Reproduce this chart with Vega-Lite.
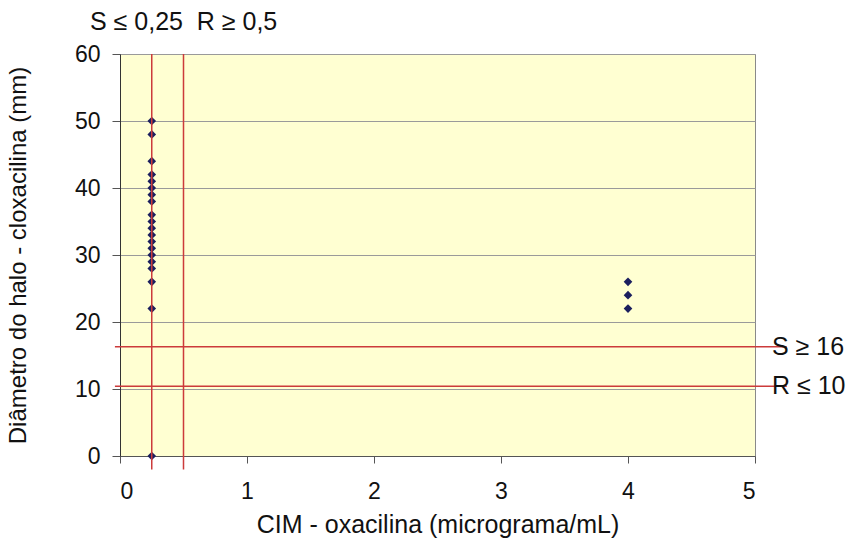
{
  "$schema": "https://vega.github.io/schema/vega-lite/v6.json",
  "autosize": "none",
  "width": 635,
  "height": 402,
  "padding": {"left": 120, "top": 54, "right": 97, "bottom": 84},
  "background": "white",
  "config": {
    "view": {"fill": "#FFFFD2", "stroke": "#8a8a8a", "strokeWidth": 1},
    "font": "Liberation Sans"
  },
  "datasets": {
    "pts": [
      {"cim": 0.25, "halo": 50}, {"cim": 0.25, "halo": 48}, {"cim": 0.25, "halo": 44},
      {"cim": 0.25, "halo": 42}, {"cim": 0.25, "halo": 41}, {"cim": 0.25, "halo": 40},
      {"cim": 0.25, "halo": 39}, {"cim": 0.25, "halo": 38}, {"cim": 0.25, "halo": 36},
      {"cim": 0.25, "halo": 35}, {"cim": 0.25, "halo": 34}, {"cim": 0.25, "halo": 33},
      {"cim": 0.25, "halo": 32}, {"cim": 0.25, "halo": 31}, {"cim": 0.25, "halo": 30},
      {"cim": 0.25, "halo": 29}, {"cim": 0.25, "halo": 28}, {"cim": 0.25, "halo": 26},
      {"cim": 0.25, "halo": 22}, {"cim": 0.25, "halo": 0},
      {"cim": 4, "halo": 26}, {"cim": 4, "halo": 24}, {"cim": 4, "halo": 22}
    ],
    "vlines": [{"x": 0.25}, {"x": 0.5}],
    "hlines": [{"y": 16.3, "label": "S ≥ 16", "off": 4}, {"y": 10.4, "label": "R ≤ 10", "off": -5}],
    "top": [{"label": "S ≤ 0,25\u00a0\u00a0R ≥ 0,5"}]
  },
  "layer": [
    {
      "data": {"name": "pts"},
      "mark": {"type": "point", "shape": "diamond", "filled": true, "color": "#1b1f5e", "size": 75, "opacity": 1},
      "encoding": {
        "x": {
          "field": "cim", "type": "quantitative",
          "scale": {"domain": [0, 5], "nice": false},
          "axis": {
            "title": "CIM - oxacilina (micrograma/mL)",
            "values": [0, 1, 2, 3, 4, 5],
            "format": "d",
            "grid": false,
            "domainColor": "#555", "tickColor": "#555", "tickSize": 7,
            "labelFontSize": 23, "labelColor": "#111", "labelPadding": 17,
            "titleFontSize": 25, "titleFontWeight": "normal", "titleColor": "#111", "titlePadding": 9
          }
        },
        "y": {
          "field": "halo", "type": "quantitative",
          "scale": {"domain": [0, 60], "nice": false},
          "axis": {
            "title": "Diâmetro do halo - cloxacilina (mm)",
            "values": [0, 10, 20, 30, 40, 50, 60],
            "grid": true, "gridColor": "#9a9a9a", "gridWidth": 1,
            "domainColor": "#333", "tickColor": "#555", "tickSize": 8,
            "labelFontSize": 23, "labelColor": "#111", "labelPadding": 12,
            "titleFontSize": 24, "titleFontWeight": "normal", "titleColor": "#111", "titlePadding": 44
          }
        }
      }
    },
    {
      "data": {"name": "vlines"},
      "mark": {"type": "rule", "color": "#cc3b3b", "strokeWidth": 1.5, "clip": false},
      "encoding": {
        "x": {"field": "x", "type": "quantitative"},
        "y": {"datum": 60},
        "y2": {"datum": -2}
      }
    },
    {
      "data": {"name": "hlines"},
      "mark": {"type": "rule", "color": "#cc3b3b", "strokeWidth": 1.5, "clip": false},
      "encoding": {
        "y": {"field": "y", "type": "quantitative"},
        "x": {"datum": -0.04},
        "x2": {"datum": 5.25}
      }
    },
    {
      "data": {"name": "hlines"},
      "mark": {"type": "text", "align": "left", "baseline": "middle", "fontSize": 25, "color": "#111", "dx": 17, "clip": false},
      "encoding": {
        "y": {"field": "y", "type": "quantitative"},
        "yOffset": {"field": "off", "type": "quantitative", "scale": null},
        "x": {"datum": 5},
        "text": {"field": "label"}
      }
    },
    {
      "data": {"name": "top"},
      "mark": {"type": "text", "align": "left", "baseline": "middle", "fontSize": 25, "color": "#111", "dx": -30, "dy": -32, "clip": false},
      "encoding": {
        "x": {"datum": 0},
        "y": {"datum": 60},
        "text": {"field": "label"}
      }
    }
  ]
}
